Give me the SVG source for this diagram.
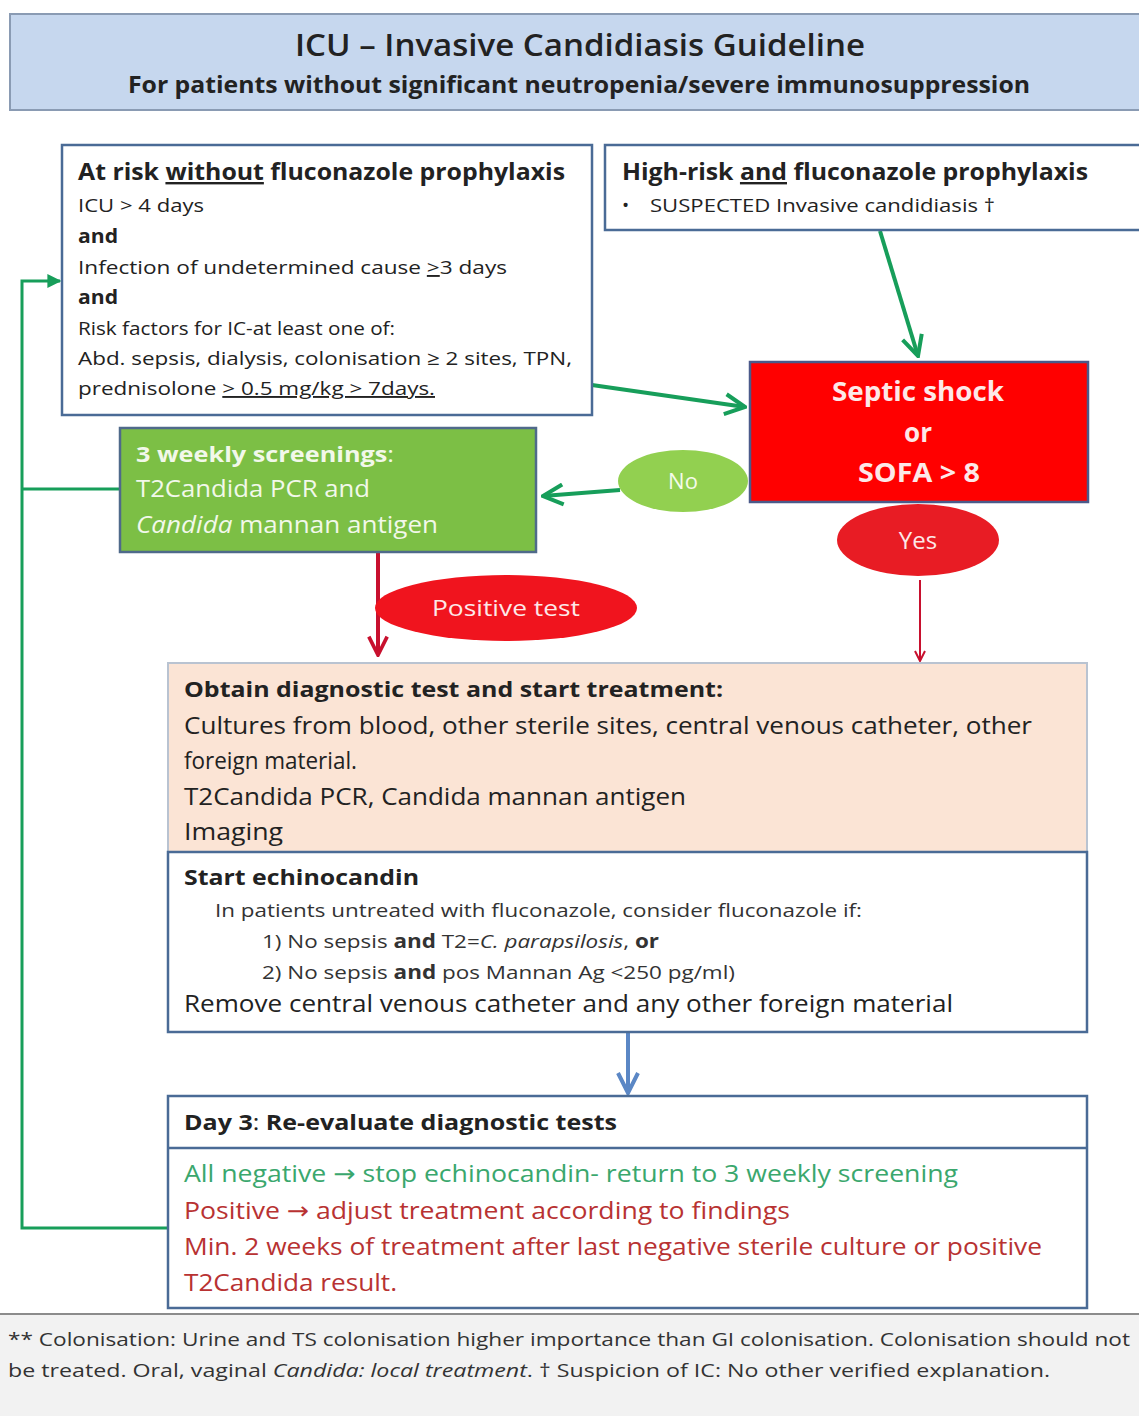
<svg xmlns="http://www.w3.org/2000/svg" width="1139" height="1416" viewBox="0 0 1139 1416">
<defs>
<style>
text{font-family:"Open Sans","Liberation Sans",sans-serif;fill:#222}
.b{font-weight:bold}
.box{fill:#fff;stroke:#4a6b96;stroke-width:2.5}
.t19{font-size:19px}
.t22{font-size:22px}
.t24{font-size:24px}
.w{fill:#fff}
.g{stroke:#179e5a;fill:none}
.arr{font-family:"DejaVu Sans",sans-serif}
</style>
<marker id="chevGL" viewBox="0 0 24 24" refX="22" refY="12" markerWidth="24" markerHeight="24" markerUnits="userSpaceOnUse" orient="auto">
<path d="M2,2 L22,12 L2,22" fill="none" stroke="#179e5a" stroke-width="4"/>
</marker>
<marker id="triG" viewBox="0 0 10 10" refX="9" refY="5" markerWidth="14" markerHeight="14" markerUnits="userSpaceOnUse" orient="auto">
<path d="M0,0 L10,5 L0,10 Z" fill="#179e5a"/>
</marker>
<marker id="chevR" viewBox="0 0 24 24" refX="22" refY="12" markerWidth="22" markerHeight="22" markerUnits="userSpaceOnUse" orient="auto">
<path d="M2,2 L22,12 L2,22" fill="none" stroke="#c8102e" stroke-width="4"/>
</marker>
<marker id="chevRs" viewBox="0 0 12 12" refX="11" refY="6" markerWidth="12" markerHeight="12" markerUnits="userSpaceOnUse" orient="auto">
<path d="M1,1 L11,6 L1,11" fill="none" stroke="#c8102e" stroke-width="2"/>
</marker>
<marker id="chevB" viewBox="0 0 24 24" refX="22" refY="12" markerWidth="24" markerHeight="24" markerUnits="userSpaceOnUse" orient="auto">
<path d="M2,2 L22,12 L2,22" fill="none" stroke="#5b87c5" stroke-width="4"/>
</marker>
</defs>
<rect width="1139" height="1416" fill="#fff"/>

<g id="title">
<rect x="10" y="14" width="1140" height="96" fill="#c6d7ee" stroke="#8a9bb3" stroke-width="2"/>
<text x="580" y="56" text-anchor="middle" style="font-size:30px;font-weight:600" textLength="570" lengthAdjust="spacingAndGlyphs">ICU – Invasive Candidiasis Guideline</text>
<text x="579" y="93" text-anchor="middle" class="b" style="font-size:23px" textLength="902" lengthAdjust="spacingAndGlyphs">For patients without significant neutropenia/severe immunosuppression</text>
</g>

<g id="connectors">
<path class="g" stroke-width="3" d="M168,1228 H22 V281 H60" marker-end="url(#triG)"/>
<path class="g" stroke-width="3" d="M22,489 H120"/>
<path class="g" stroke-width="4" d="M880,231 L918,356" marker-end="url(#chevGL)"/>
<path class="g" stroke-width="4" d="M585,384 L745,407" marker-end="url(#chevGL)"/>
<path class="g" stroke-width="4" d="M620,490 L543,496" marker-end="url(#chevGL)"/>
<path d="M378,553 V655" stroke="#c8102e" stroke-width="4" fill="none" marker-end="url(#chevR)"/>
<path d="M920,580 V661" stroke="#c8102e" stroke-width="2" fill="none" marker-end="url(#chevRs)"/>
<path d="M628,1033 V1093" stroke="#5b87c5" stroke-width="4" fill="none" marker-end="url(#chevB)"/>
</g>

<g id="at-risk">
<rect class="box" x="62" y="145" width="530" height="270"/>
<text x="78" y="180" class="b t24" textLength="487" lengthAdjust="spacingAndGlyphs">At risk <tspan text-decoration="underline">without</tspan> fluconazole prophylaxis</text>
<text x="78" y="212" class="t19" textLength="126" lengthAdjust="spacingAndGlyphs">ICU &gt; 4 days</text>
<text x="78" y="243" class="b t19" textLength="40" lengthAdjust="spacingAndGlyphs">and</text>
<text x="78" y="274" class="t19" textLength="429" lengthAdjust="spacingAndGlyphs">Infection of undetermined  cause  <tspan text-decoration="underline">&gt;</tspan>3 days</text>
<text x="78" y="304" class="b t19" textLength="40" lengthAdjust="spacingAndGlyphs">and</text>
<text x="78" y="335" class="t19" textLength="317" lengthAdjust="spacingAndGlyphs">Risk factors for IC-at least one of:</text>
<text x="78" y="365" class="t19" textLength="494" lengthAdjust="spacingAndGlyphs">Abd.  sepsis, dialysis, colonisation ≥ 2 sites, TPN,</text>
<text x="78" y="395" class="t19" textLength="357" lengthAdjust="spacingAndGlyphs">prednisolone <tspan text-decoration="underline">&gt; 0.5 mg/kg &gt; 7days.</tspan></text>
</g>

<g id="high-risk">
<rect class="box" x="605" y="145" width="545" height="85"/>
<text x="622" y="180" class="b t24" textLength="466" lengthAdjust="spacingAndGlyphs">High-risk <tspan text-decoration="underline">and</tspan> fluconazole prophylaxis</text>
<text x="622" y="212" class="t19">•</text>
<text x="650" y="212" class="t19" textLength="345" lengthAdjust="spacingAndGlyphs">SUSPECTED Invasive candidiasis †</text>
</g>

<g id="septic">
<rect x="750" y="362" width="338" height="140" fill="#ff0000" stroke="#4b5a8a" stroke-width="2.5"/>
<text x="918" y="401" text-anchor="middle" class="b" style="font-size:26px;fill:#fde8e8" textLength="172" lengthAdjust="spacingAndGlyphs">Septic shock</text>
<text x="918" y="442" text-anchor="middle" class="b" style="font-size:26px;fill:#fde8e8">or</text>
<text x="919" y="482" text-anchor="middle" class="b" style="font-size:26px;fill:#fde8e8" textLength="122" lengthAdjust="spacingAndGlyphs">SOFA &gt; 8</text>
</g>

<g id="no">
<ellipse cx="683" cy="481" rx="65" ry="31" fill="#92d050"/>
<text x="683" y="489" text-anchor="middle" class="t22" style="fill:#f4fbe9">No</text>
</g>

<g id="screening">
<rect x="120" y="428" width="416" height="124" fill="#7cbf45" stroke="#4f6a8a" stroke-width="2.5"/>
<text x="136" y="462" class="b t22" style="fill:#f2f8ea" textLength="258" lengthAdjust="spacingAndGlyphs">3 weekly screenings<tspan style="font-weight:normal">:</tspan></text>
<text x="136" y="497" class="t24" style="fill:#f2f8ea" textLength="234" lengthAdjust="spacingAndGlyphs">T2Candida PCR and</text>
<text x="136" y="533" class="t24" style="fill:#f2f8ea" textLength="302" lengthAdjust="spacingAndGlyphs"><tspan font-style="italic">Candida</tspan> mannan antigen</text>
</g>

<g id="yes">
<ellipse cx="918" cy="540" rx="81" ry="36" fill="#e81c24"/>
<text x="918" y="549" text-anchor="middle" class="t24 w" style="fill:#fde8e8">Yes</text>
</g>

<g id="positive">
<ellipse cx="506" cy="608" rx="131" ry="33" fill="#f0141e"/>
<text x="506" y="616" text-anchor="middle" class="t22" style="fill:#fde8e8" textLength="148" lengthAdjust="spacingAndGlyphs">Positive test</text>
</g>

<g id="diagnostic">
<rect x="168" y="663" width="919" height="189" fill="#fbe4d5" stroke="#b9c3d1" stroke-width="2"/>
<text x="184" y="697" class="b t22" textLength="539" lengthAdjust="spacingAndGlyphs">Obtain diagnostic test and start treatment:</text>
<text x="184" y="734" class="t24" textLength="848" lengthAdjust="spacingAndGlyphs">Cultures from blood, other sterile sites, central venous catheter, other</text>
<text x="184" y="769" class="t24" textLength="173" lengthAdjust="spacingAndGlyphs">foreign material.</text>
<text x="184" y="805" class="t24" textLength="502" lengthAdjust="spacingAndGlyphs">T2Candida PCR, Candida mannan antigen</text>
<text x="184" y="840" class="t24" textLength="99" lengthAdjust="spacingAndGlyphs">Imaging</text>
</g>

<g id="echinocandin">
<rect class="box" x="168" y="852" width="919" height="180" stroke-width="3"/>
<text x="184" y="885" class="b t22" textLength="235" lengthAdjust="spacingAndGlyphs">Start echinocandin</text>
<text x="215" y="917" class="t19" style="fill:#333" textLength="647" lengthAdjust="spacingAndGlyphs">In patients untreated with fluconazole, consider fluconazole if:</text>
<text x="262" y="948" class="t19" style="fill:#333" textLength="397" lengthAdjust="spacingAndGlyphs">1) No sepsis <tspan class="b">and</tspan> T2=<tspan font-style="italic">C. parapsilosis</tspan>, <tspan class="b">or</tspan></text>
<text x="262" y="979" class="t19" style="fill:#333" textLength="473" lengthAdjust="spacingAndGlyphs">2) No sepsis <tspan class="b">and</tspan> pos Mannan Ag &lt;250 pg/ml)</text>
<text x="184" y="1012" class="t24" textLength="769" lengthAdjust="spacingAndGlyphs">Remove central venous catheter and any other foreign material</text>
</g>

<g id="day3">
<rect class="box" x="168" y="1096" width="919" height="212"/>
<line x1="168" y1="1148" x2="1087" y2="1148" stroke="#4a6b96" stroke-width="2.5"/>
<text x="184" y="1130" class="b t22" textLength="433" lengthAdjust="spacingAndGlyphs">Day 3<tspan style="font-weight:normal">:</tspan> Re-evaluate diagnostic tests</text>
<text x="184" y="1182" class="t24" style="fill:#3aa76d" textLength="774" lengthAdjust="spacingAndGlyphs">All negative <tspan class="arr">→</tspan> stop echinocandin- return to 3  weekly screening</text>
<text x="184" y="1219" class="t24" style="fill:#b83232" textLength="606" lengthAdjust="spacingAndGlyphs">Positive <tspan class="arr">→</tspan>  adjust treatment according to findings</text>
<text x="184" y="1255" class="t24" style="fill:#b83232" textLength="858" lengthAdjust="spacingAndGlyphs">Min. 2 weeks of treatment after last negative sterile culture or positive</text>
<text x="184" y="1291" class="t24" style="fill:#b83232" textLength="213" lengthAdjust="spacingAndGlyphs">T2Candida result.</text>
</g>

<g id="footer">
<rect x="-2" y="1314" width="1145" height="110" fill="#f2f2f2" stroke="#8c8c8c" stroke-width="2"/>
<text x="8" y="1346" class="t19" style="fill:#333" textLength="1122" lengthAdjust="spacingAndGlyphs">** Colonisation: Urine and TS colonisation higher importance  than GI colonisation. Colonisation should not</text>
<text x="8" y="1377" class="t19" style="fill:#333" textLength="1042" lengthAdjust="spacingAndGlyphs">be treated. Oral, vaginal <tspan font-style="italic">Candida: local treatment</tspan>. † Suspicion of IC:  No other verified explanation.</text>
</g>
</svg>
